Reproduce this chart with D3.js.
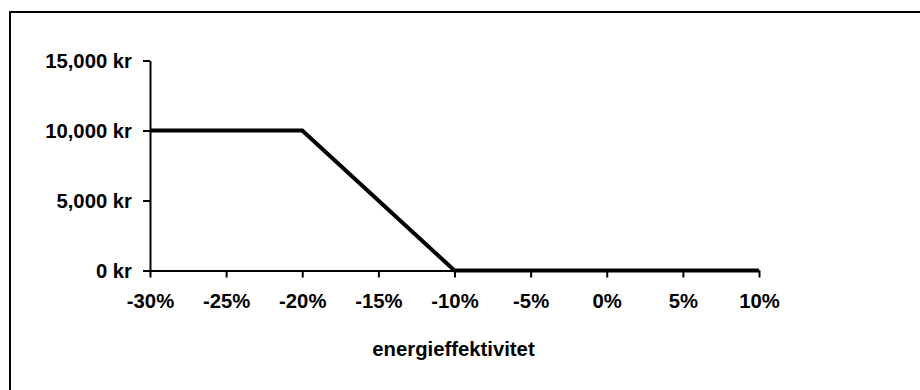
<!DOCTYPE html>
<html>
<head>
<meta charset="utf-8">
<script src="https://cdn.jsdelivr.net/npm/d3@7"></script>
<style>
  html, body { margin: 0; padding: 0; background: #fff; }
  svg { display: block; }
  text { font-family: "Liberation Sans", Arial, sans-serif; font-weight: bold; fill: #000; }
</style>
</head>
<body>
<svg id="chart" width="920" height="390"></svg>
<script>
const xValues = [-30, -20, -10, 10];
const yValues = [10000, 10000, 0, 0];
const xTicks = [-30, -25, -20, -15, -10, -5, 0, 5, 10];
const yTicks = [0, 5000, 10000, 15000];
const xTitle = "energieffektivitet";

const svg = d3.select("#chart");

// outer border (right and bottom edges fall outside the picture)
svg.append("rect")
  .attr("x", 10).attr("y", 12)
  .attr("width", 930).attr("height", 400)
  .attr("fill", "none").attr("stroke", "#000").attr("stroke-width", 2);

const x = d3.scaleLinear().domain([-30, 10]).range([150, 759]);
const y = d3.scaleLinear().domain([0, 15000]).range([270.5, 60.5]);

const fs = 20.3;

const xAxis = svg.append("g")
  .attr("transform", `translate(0,${y(0)})`)
  .call(d3.axisBottom(x).tickValues(xTicks).tickSize(7).tickSizeOuter(0)
    .tickFormat(d => d + "%"));
xAxis.select(".domain").attr("stroke", "#000").attr("stroke-width", 2);
xAxis.selectAll(".tick line").attr("stroke", "#000").attr("stroke-width", 2);
xAxis.selectAll(".tick text").attr("font-size", fs).attr("font-family", null)
  .attr("dy", null).attr("y", 37.5);

const yAxis = svg.append("g")
  .attr("transform", `translate(${x(-30)},0)`)
  .call(d3.axisLeft(y).tickValues(yTicks).tickSize(7).tickSizeOuter(0)
    .tickFormat(d => d3.format(",")(d) + " kr"));
yAxis.select(".domain").attr("stroke", "#000").attr("stroke-width", 2);
yAxis.selectAll(".tick line").attr("stroke", "#000").attr("stroke-width", 2);
yAxis.selectAll(".tick text").attr("font-size", fs).attr("font-family", null)
  .attr("x", -18).attr("dy", "0.36em");

svg.append("text")
  .attr("x", (x(-30) + x(10)) / 2 - 1).attr("y", 356)
  .attr("text-anchor", "middle").attr("font-size", fs)
  .text(xTitle);

const pts = xValues.map((v, i) => [v, yValues[i]]);
svg.append("path")
  .datum(pts)
  .attr("fill", "none").attr("stroke", "#000").attr("stroke-width", 4)
  .attr("stroke-linejoin", "miter")
  .attr("d", d3.line().x(d => x(d[0])).y(d => y(d[1])));
</script>
</body>
</html>
